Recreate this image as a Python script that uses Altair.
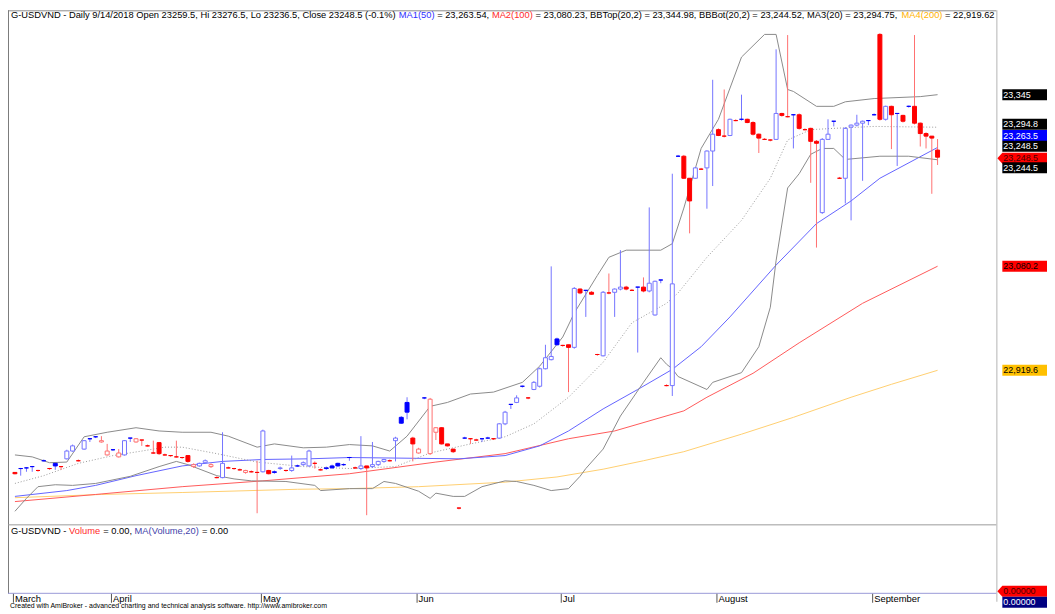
import altair as alt
import pandas as pd
import numpy as np

# ---------------- data ----------------
opens = [22762,22768,22769,22771,22765,22780,22768,22776,22771,22783,22795,22780,22798,22814,22817,22809,22789,22797,22786,22789,
         22815,22809,22812,22803,22792,22808,22789,22788,22786,22785,22788,22771,22772,22777,22771,22754,22754,22769,22768,22766,
         22762,22763,22762,22763,22765,22763,22768,22765,22765,22772,22774,22772,22776,22766,22769,22772,22776,22774,22785,22769,
         22768,22772,22771,22774,22779,22780,22811,22847,22870,22815,22792,22877,22791,22824,22831,22806,22798,22707,22815,22814,
         22812,22814,22815,22814,22815,22837,22867,22870,22895,22877,22890,22895,22922,22936,22968,22958,22959,22955,23045,23043,
         23040,22944,22942,23039,23040,23045,23048,23043,23048,23048,23042,23005,23059,22896,22896,23250,23250,23216,23216,23230,
         23232,23258,23291,23281,23282,23305,23307,23307,23302,23284,23276,23275,23276,23316,23311,23314,23314,23291,23293,23273,
         23163,23276,23304,23216,23216,23295,23298,23301,23305,23314,23438,23307,23327,23316,23313,23327,23327,23301,23285,23281,
         23259.5]
highs = [22762,22769,22770,22772,22766,22782,22769,22776,22771,22797,22805,22782,22812,22814,22818,22818,22806,22798,22798,22812,
         22815,22815,22812,22805,22811,22809,22791,22788,22811,22786,22788,22776,22777,22782,22776,22756,22824,22771,22769,22768,
         22766,22765,22780,22828,22766,22765,22771,22766,22788,22774,22779,22797,22779,22768,22771,22774,22777,22776,22786,22771,
         22818,22772,22809,22780,22783,22782,22817,22849,22878,22817,22800,22878,22877,22832,22832,22806,22798,22708,22817,22815,
         22814,22815,22817,22815,22838,22857,22867,22881,22896,22878,22903,22924,22959,23080,22970,22959,22959,23048,23046,23043,
         23042,22945,23042,23069,23046,23105,23050,23045,23048,23063,23171,23058,23059,22898,23223,23252,23252,23216,23233,23232,
         23259,23368,23293,23353,23308,23307,23345,23308,23304,23285,23278,23276,23415,23317,23437,23314,23316,23293,23294,23275,
         23278,23307,23304,23218,23295,23299,23314,23305,23305,23316,23440,23328,23328,23316,23314,23328,23437,23302,23287,23281,
         23276.5]
lows = [22759,22757,22763,22763,22763,22779,22766,22766,22766,22782,22794,22779,22797,22809,22815,22808,22788,22795,22785,22788,
        22809,22808,22803,22802,22791,22789,22788,22786,22785,22783,22777,22769,22771,22776,22769,22753,22753,22768,22766,22765,
        22760,22762,22699,22762,22759,22760,22766,22763,22763,22771,22772,22771,22768,22765,22766,22768,22771,22772,22780,22768,
        22766,22696,22769,22772,22777,22779,22779,22837,22844,22779,22791,22875,22789,22812,22805,22802,22792,22705,22814,22806,
        22811,22809,22814,22812,22814,22835,22860,22869,22893,22875,22889,22893,22921,22935,22958,22956,22886,22953,23037,23002,
        23036,22942,22941,23037,23002,23043,23043,23042,22947,23040,23040,23004,23054,22895,22880,23249,23215,23131,23215,23229,
        23169,23204,23281,23279,23281,23304,23305,23301,23282,23255,23275,23273,23275,23311,23310,23262,23291,23290,23209,23109,
        23161,23275,23296,23215,23177,23151,23296,23212,23298,23313,23305,23305,23261,23235,23302,23325,23299,23265,23262,23192,
        23236.5]
closes = [22760,22768,22769,22771,22765,22780,22768,22772,22771,22795,22803,22780,22811,22814,22817,22811,22795,22797,22792,22811,
          22815,22814,22812,22803,22792,22791,22789,22788,22786,22785,22779,22774,22776,22780,22774,22754,22776,22769,22768,22766,
          22765,22763,22762,22826,22760,22762,22769,22765,22769,22772,22777,22795,22776,22766,22768,22769,22772,22774,22785,22769,
          22772,22769,22774,22779,22782,22780,22815,22838,22855,22806,22798,22877,22875,22831,22806,22803,22794,22707,22815,22814,
          22812,22814,22815,22814,22837,22855,22867,22877,22895,22877,22901,22922,22939,22941,22959,22958,22955,23046,23039,23043,
          23037,22944,23040,23039,23045,23048,23045,23043,23048,23042,23054,23057,23059,22896,23053,23250,23216,23181,23232,23230,
          23258,23284,23282,23281,23307,23305,23307,23302,23284,23278,23276,23275,23316,23313,23311,23314,23293,23291,23273,23270,
          23276,23284,23304,23216,23293,23298,23301,23304,23305,23314,23307,23327,23314,23316,23304,23327,23301,23285,23281,23278,
          23248.5]

month_names = ["March", "April", "May", "Jun", "Jul", "August", "September"]
month_bars = [0, 17, 43, 70, 95, 122, 149]

ma50_bar = [0, 9, 14, 21, 29, 36, 43, 51, 58, 77, 85, 91, 96, 102, 108, 114, 119, 124, 132, 139, 145, 150, 160]
ma50_val = [22725, 22734, 22742, 22757, 22772, 22779, 22782, 22783, 22785, 22783, 22788, 22803, 22826, 22860, 22890,
            22921, 22956, 23002, 23082, 23146, 23181, 23216, 23263.54]
ma100_bar = [0, 14, 29, 43, 58, 73, 85, 96, 104, 116, 120, 128, 136, 147, 160]
ma100_val = [22717, 22728, 22740, 22749, 22760, 22778, 22791, 22814, 22826, 22857, 22878, 22915, 22962, 23023, 23080.23]
ma20_bar = [0, 5, 11, 17, 22, 26, 29, 35, 42, 50, 58, 66, 72, 79, 85, 90, 96, 102, 107, 113, 115, 120, 126, 131, 134,
            138, 142, 149, 160]
ma20_val = [22745, 22757, 22776, 22788, 22795, 22801, 22801, 22791, 22778, 22771, 22768, 22771, 22792, 22806, 22817,
            22837, 22878, 22932, 22993, 23023, 23039, 23094, 23151, 23216, 23275, 23291, 23293, 23296, 23294.75]
ma200_bar = [0, 15, 29, 49, 58, 70, 85, 94, 102, 109, 116, 126, 135, 145, 152, 160]
ma200_val = [22723, 22728, 22731, 22736, 22737, 22740, 22747, 22755, 22767, 22780, 22794, 22821, 22847, 22878, 22898, 22919.62]
bbtop_bar = [0, 3, 6, 9, 12, 16, 21, 25, 29, 34, 37, 42, 45, 50, 54, 58, 62, 65, 68, 72, 75, 79, 83, 88, 91, 95, 97, 101,
             103, 106, 112, 114, 116, 119, 122, 126, 130, 132, 134, 135, 139, 142, 144, 149, 157, 160]
bbtop_val = [22789, 22786, 22777, 22778, 22817, 22824, 22831, 22826, 22824, 22824, 22818, 22801, 22806, 22800, 22801,
             22805, 22803, 22795, 22818, 22864, 22870, 22883, 22886, 22901, 22926, 22971, 23008, 23066, 23094, 23105,
             23105, 23115, 23170, 23262, 23307, 23403, 23438, 23438, 23353, 23350, 23327, 23327, 23334, 23339, 23342, 23344.98]
bbbot_bar = [0, 2, 4, 7, 10, 14, 20, 25, 28, 30, 35, 38, 41, 47, 52, 53, 58, 62, 64, 66, 70, 72, 73, 76, 78, 81, 85, 87,
             90, 93, 96, 98, 99, 102, 105, 109, 112, 113, 114, 115, 120, 121, 126, 129, 131, 132, 134, 136, 138, 140, 142,
             144, 150, 155, 160]
bbbot_val = [22702, 22722, 22740, 22743, 22742, 22745, 22756, 22771, 22779, 22774, 22757, 22752, 22749, 22748, 22742,
             22734, 22737, 22737, 22748, 22745, 22733, 22722, 22730, 22725, 22725, 22740, 22749, 22748, 22742, 22734,
             22737, 22756, 22768, 22798, 22849, 22901, 22939, 22929, 22922, 22910, 22890, 22901, 22916, 22956, 23017,
             23089, 23201, 23223, 23253, 23262, 23262, 23245, 23250, 23250, 23244.52]

# right-axis value labels: value, text (as visible in the reference)
lab_vals = [23344.98, 23294.75, 23263.54, 23248.5, 23248.5, 23244.52, 23080.23, 22919.62]
lab_text = ["23,345", "23,294.8", "23,263.5", "23,248.5", "23,248.5", "23,244.5", "23,080.2", "22,919.6"]

# ---------------- layout / style ----------------
W, H = 1047, 604
PANE_R = 996             # right edge of plotting panes (view px)
PRICE_B = 517            # bottom of price pane
VOL_B = 587              # bottom of volume pane
FONT = "Liberation Sans"
XS = alt.Scale(domain=[-0.34, 169.34], range=[0, PANE_R], nice=False, zero=False)
YS = alt.Scale(domain=[22683.4, 23475.2], range=[PRICE_B, 0], nice=False, zero=False)
LBX = PANE_R + 6         # left edge of label boxes

AW = {' ': 278, '%': 889, '(': 333, ')': 333, ',': 278, '-': 333, '.': 278, '/': 278, '=': 584,
      'A': 667, 'B': 667, 'C': 722, 'D': 722, 'G': 778, 'H': 722, 'L': 556, 'M': 833, 'N': 722, 'O': 778,
      'S': 667, 'T': 611, 'U': 722, 'V': 667, 'a': 556, 'b': 556, 'c': 500, 'd': 556, 'e': 556, 'h': 556,
      'i': 222, 'l': 222, 'm': 833, 'n': 556, 'o': 556, 'p': 556, 'r': 333, 's': 500, 't': 278, 'u': 556, 'y': 500}


def tw(s, fs):
    return sum(AW.get(c, 556) for c in s) * fs / 1000.0


dummy = pd.DataFrame({"k": [0]})


def text_segments(segs, x0, y, fs):
    layers = []
    x = x0
    for s, col in segs:
        lead = len(s) - len(s.lstrip(' '))
        body = s.strip(' ')
        if body:
            layers.append(alt.Chart(dummy).mark_text(align="left", baseline="middle", font=FONT, fontSize=fs,
                                                     color=col).encode(
                x=alt.value(x + tw(' ' * lead, fs)), y=alt.value(y), text=alt.value(body)))
        x += tw(s, fs)
    return layers


# ---------------- candles ----------------
n = len(closes)
df = pd.DataFrame({"bar": list(range(n)), "open": opens, "high": highs, "low": lows, "close": closes})
prev = df["close"].shift(1)
up = np.where(prev.isna(), df["close"] >= df["open"], df["close"] > prev)
df["dir"] = np.where(up, "up", "down")
df["kind"] = df["dir"] + np.where(df["close"] > df["open"], "_h", "_f")

BLUE_L, RED_L = "#7474ff", "#ff7070"
wicks = alt.Chart(df).mark_rule(strokeWidth=1).encode(
    x=alt.X("bar:Q", scale=XS, axis=None),
    y=alt.Y("low:Q", scale=YS, axis=None), y2="high:Q",
    color=alt.Color("dir:N", scale=alt.Scale(domain=["up", "down"], range=[BLUE_L, RED_L]), legend=None))
bodies = alt.Chart(df).mark_bar(size=4, strokeWidth=1).encode(
    x=alt.X("bar:Q", scale=XS, axis=None),
    y=alt.Y("open:Q", scale=YS, axis=None), y2="close:Q",
    fill=alt.Fill("kind:N", scale=alt.Scale(domain=["up_h", "up_f", "down_h", "down_f"],
                                            range=["#ffffff", "#0000ff", "#ffffff", "#ff0000"]), legend=None),
    stroke=alt.Stroke("kind:N", scale=alt.Scale(domain=["up_h", "up_f", "down_h", "down_f"],
                                                range=[BLUE_L, "#0000ff", RED_L, "#ff0000"]), legend=None))


def line(bars, vals, color, dash=None, width=1):
    d = pd.DataFrame({"bar": bars, "val": vals})
    kw = dict(color=color, strokeWidth=width)
    if dash:
        kw["strokeDash"] = dash
    return alt.Chart(d).mark_line(**kw).encode(
        x=alt.X("bar:Q", scale=XS, axis=None), y=alt.Y("val:Q", scale=YS, axis=None))


lines = [
    line(ma200_bar, ma200_val, "#ffcf70"),
    line(ma100_bar, ma100_val, "#ff5a5a"),
    line(ma50_bar, ma50_val, "#6464ff"),
    line(ma20_bar, ma20_val, "#9a9a9a", dash=[1, 2]),
    line(bbtop_bar, bbtop_val, "#8a8a8a"),
    line(bbbot_bar, bbbot_val, "#8a8a8a"),
]


# ---------------- frames ----------------
def hrule(x1, x2, y, color, w=1):
    return alt.Chart(dummy).mark_rule(color=color, strokeWidth=w).encode(
        x=alt.value(x1), x2=alt.value(x2), y=alt.value(y))


def vrule(x, y1, y2, color, w=1):
    return alt.Chart(dummy).mark_rule(color=color, strokeWidth=w).encode(
        x=alt.value(x), y=alt.value(y1), y2=alt.value(y2))


frames = [
    hrule(0, PANE_R, 0.5, "#8c8c8c"),
    vrule(0.5, 0, VOL_B + 1, "#7a7a7a"),
    hrule(0, PANE_R, PRICE_B + 1.5, "#9a9a9a"),
    hrule(0, PANE_R, VOL_B + 0.5, "#9a9ad8"),
    vrule(PANE_R + 0.5, 0, H - 8, "#b4b4b4"),
]

# ---------------- titles ----------------
BLACK = "#000000"
hdr = text_segments([
    ("G-USDVND - Daily 9/14/2018 Open 23259.5, Hi 23276.5, Lo 23236.5, Close 23248.5 (-0.1%) ", BLACK),
    ("MA1(50)", "#3030ff"), (" = 23,263.54, ", BLACK),
    ("MA2(100)", "#ff2a2a"),
    (" = 23,080.23, BBTop(20,2) = 23,344.98, BBBot(20,2) = 23,244.52, MA3(20) = 23,294.75, ", BLACK),
    ("MA4(200)", "#ffb300"), (" = 22,919.62", BLACK)], 3, 5, 9.4)
vol_hdr = text_segments([
    ("G-USDVND - ", BLACK), ("Volume", "#ff2a2a"), (" = 0.00, ", BLACK),
    ("MA(Volume,20)", "#4444aa"), (" = 0.00", BLACK)], 3, 525, 9.4)

footer = alt.Chart(dummy).mark_text(align="left", baseline="middle", font=FONT, fontSize=7, color="#000000").encode(
    x=alt.value(2), y=alt.value(H - 3.5),
    text=alt.value("Created with AmiBroker - advanced charting and technical analysis software. http://www.amibroker.com"))

mdf = pd.DataFrame({"bar": month_bars, "name": month_names})
mticks = alt.Chart(mdf).mark_rule(color="#555555", strokeWidth=1, xOffset=-1.5).encode(
    x=alt.X("bar:Q", scale=XS, axis=None), y=alt.value(VOL_B + 1), y2=alt.value(VOL_B + 10))
mlabels = alt.Chart(mdf).mark_text(align="left", baseline="middle", font=FONT, fontSize=9.5, dx=0,
                                   color="#000000").encode(
    x=alt.X("bar:Q", scale=XS, axis=None), y=alt.value(VOL_B + 6), text="name:N")

# ---------------- right-hand value labels ----------------
RECT = "M-1,-0.229L1,-0.229L1,0.229L-1,0.229Z"
ARROW = "M-1,0L-0.81,-0.208L1,-0.208L1,0.208L-0.81,0.208Z"
RECT_CX = LBX + 24
ARROW_CX = LBX - 5 + 26.5
ARROW_TXT = "#4a0000"
label_style = [  # bg, fg, dy, arrow
    ("#000000", "#ffffff", 0, False),
    ("#000000", "#ffffff", -3, False),
    ("#0000ff", "#ffffff", -12, False),
    ("#000000", "#ffffff", -11, False),
    ("#ff0000", ARROW_TXT, 1, True),
    ("#000000", "#ffffff", 8, False),
    ("#ff0000", "#000000", 0, False),
    ("#ffc000", "#000000", 0, False),
]
labels = []
for v, t, (bg, fg, dy, arrow) in zip(lab_vals, lab_text, label_style):
    d = pd.DataFrame({"v": [v], "t": [t]})
    if arrow:
        box = alt.Chart(d).mark_point(shape=ARROW, filled=True, size=53 * 53, color=bg, opacity=1,
                                      yOffset=dy, strokeWidth=0).encode(
            x=alt.value(ARROW_CX), y=alt.Y("v:Q", scale=YS, axis=None))
    else:
        box = alt.Chart(d).mark_point(shape=RECT, filled=True, size=48 * 48, color=bg, opacity=1,
                                      yOffset=dy, strokeWidth=0).encode(
            x=alt.value(RECT_CX), y=alt.Y("v:Q", scale=YS, axis=None))
    txt = alt.Chart(d).mark_text(align="left", baseline="middle", font=FONT, fontSize=9, color=fg, dy=dy).encode(
        x=alt.value(LBX + 1), y=alt.Y("v:Q", scale=YS, axis=None), text="t:N")
    labels += [box, txt]

# volume pane labels (pixel placed)
vol_labels = [
    alt.Chart(dummy).mark_point(shape=ARROW, filled=True, size=53 * 53, color="#ff0000", opacity=1,
                                strokeWidth=0).encode(x=alt.value(ARROW_CX), y=alt.value(VOL_B - 1.5)),
    alt.Chart(dummy).mark_text(align="left", baseline="middle", font=FONT, fontSize=9, color=ARROW_TXT).encode(
        x=alt.value(LBX + 1), y=alt.value(VOL_B - 1.5), text=alt.value("0.00000")),
    alt.Chart(dummy).mark_point(shape=RECT, filled=True, size=48 * 48, color="#000080", opacity=1,
                                strokeWidth=0).encode(x=alt.value(RECT_CX), y=alt.value(VOL_B + 9.5)),
    alt.Chart(dummy).mark_text(align="left", baseline="middle", font=FONT, fontSize=9, color="#ffffff").encode(
        x=alt.value(LBX + 1), y=alt.value(VOL_B + 9.5), text=alt.value("0.00000")),
]

chart = alt.layer(*frames, *lines, wicks, bodies, *hdr, *vol_hdr, footer, mticks, mlabels,
                  *labels, *vol_labels).properties(
    width=W, height=H, padding=0, autosize=alt.AutoSizeParams(type="none"), background="#ffffff"
).configure_view(stroke=None)

chart.save("out.html", embed_options={"renderer": "svg", "actions": False})
